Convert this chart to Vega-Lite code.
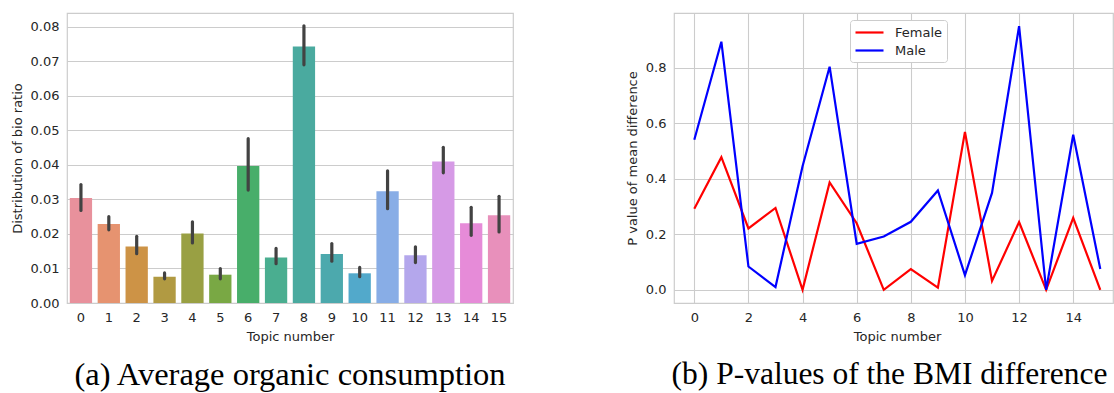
{
  "$schema": "https://vega.github.io/schema/vega-lite/v6.json",
  "background": "white",
  "padding": {"left": 10, "top": 12, "right": 0, "bottom": 0},
  "config": {
    "font": "DejaVu Sans",
    "view": {"stroke": "#cccccc", "strokeWidth": 1.2},
    "axis": {
      "labelFontSize": 13,
      "titleFontSize": 13,
      "labelColor": "#262626",
      "titleColor": "#262626",
      "titleFontWeight": "normal",
      "ticks": false,
      "tickSize": 0,
      "domain": false,
      "gridColor": "#cccccc",
      "gridWidth": 1.1,
      "labelPadding": 8,
      "titlePadding": 6
    }
  },
  "resolve": {"scale": {"color": "independent"}, "legend": {"color": "independent"}},
  "datasets": {
    "bars": [
      {"topic": 0, "mean": 0.0304, "lo": 0.0268, "hi": 0.0343},
      {"topic": 1, "mean": 0.0229, "lo": 0.0212, "hi": 0.0250},
      {"topic": 2, "mean": 0.0164, "lo": 0.0143, "hi": 0.0193},
      {"topic": 3, "mean": 0.0076, "lo": 0.0070, "hi": 0.0087},
      {"topic": 4, "mean": 0.0201, "lo": 0.0174, "hi": 0.0235},
      {"topic": 5, "mean": 0.0082, "lo": 0.0070, "hi": 0.0100},
      {"topic": 6, "mean": 0.0397, "lo": 0.0327, "hi": 0.0476},
      {"topic": 7, "mean": 0.0132, "lo": 0.0114, "hi": 0.0158},
      {"topic": 8, "mean": 0.0743, "lo": 0.0690, "hi": 0.0803},
      {"topic": 9, "mean": 0.0142, "lo": 0.0121, "hi": 0.0172},
      {"topic": 10, "mean": 0.0086, "lo": 0.0076, "hi": 0.0103},
      {"topic": 11, "mean": 0.0324, "lo": 0.0273, "hi": 0.0383},
      {"topic": 12, "mean": 0.0138, "lo": 0.0117, "hi": 0.0163},
      {"topic": 13, "mean": 0.0410, "lo": 0.0377, "hi": 0.0451},
      {"topic": 14, "mean": 0.0231, "lo": 0.0196, "hi": 0.0277},
      {"topic": 15, "mean": 0.0254, "lo": 0.0206, "hi": 0.0309}
    ],
    "pvals": [
      {"topic": 0, "sex": "Female", "p": 0.292},
      {"topic": 1, "sex": "Female", "p": 0.478},
      {"topic": 2, "sex": "Female", "p": 0.221},
      {"topic": 3, "sex": "Female", "p": 0.295},
      {"topic": 4, "sex": "Female", "p": 0.0},
      {"topic": 5, "sex": "Female", "p": 0.387},
      {"topic": 6, "sex": "Female", "p": 0.24},
      {"topic": 7, "sex": "Female", "p": 0.0},
      {"topic": 8, "sex": "Female", "p": 0.075},
      {"topic": 9, "sex": "Female", "p": 0.008},
      {"topic": 10, "sex": "Female", "p": 0.569},
      {"topic": 11, "sex": "Female", "p": 0.032},
      {"topic": 12, "sex": "Female", "p": 0.244},
      {"topic": 13, "sex": "Female", "p": 0.0},
      {"topic": 14, "sex": "Female", "p": 0.259},
      {"topic": 15, "sex": "Female", "p": 0.0},
      {"topic": 0, "sex": "Male", "p": 0.541},
      {"topic": 1, "sex": "Male", "p": 0.894},
      {"topic": 2, "sex": "Male", "p": 0.084},
      {"topic": 3, "sex": "Male", "p": 0.010},
      {"topic": 4, "sex": "Male", "p": 0.445},
      {"topic": 5, "sex": "Male", "p": 0.804},
      {"topic": 6, "sex": "Male", "p": 0.166},
      {"topic": 7, "sex": "Male", "p": 0.192},
      {"topic": 8, "sex": "Male", "p": 0.245},
      {"topic": 9, "sex": "Male", "p": 0.358},
      {"topic": 10, "sex": "Male", "p": 0.053},
      {"topic": 11, "sex": "Male", "p": 0.349},
      {"topic": 12, "sex": "Male", "p": 0.950},
      {"topic": 13, "sex": "Male", "p": 0.0},
      {"topic": 14, "sex": "Male", "p": 0.559},
      {"topic": 15, "sex": "Male", "p": 0.075}
    ]
  },
  "spacing": 161,
  "bounds": "flush",
  "hconcat": [
    {
      "width": 446,
      "height": 290,
      "data": {"name": "bars"},
      "title": {
        "text": "(a) Average organic consumption",
        "orient": "bottom",
        "anchor": "middle",
        "font": "Liberation Serif",
        "fontSize": 32.5,
        "fontWeight": "normal",
        "color": "black",
        "offset": 16
      },
      "layer": [
        {
          "mark": {"type": "bar"},
          "encoding": {
            "x": {
              "field": "topic",
              "type": "ordinal",
              "title": "Topic number",
              "scale": {"paddingInner": 0.2, "paddingOuter": 0.1},
              "axis": {"labelAngle": 0, "grid": false}
            },
            "y": {
              "field": "mean",
              "type": "quantitative",
              "title": "Distribution of bio ratio",
              "scale": {"domain": [0, 0.084], "nice": false, "zero": false},
              "axis": {"values": [0, 0.01, 0.02, 0.03, 0.04, 0.05, 0.06, 0.07, 0.08], "format": ".2f", "grid": true, "labelOverlap": false}
            },
            "color": {
              "field": "topic",
              "type": "ordinal",
              "legend": null,
              "scale": {"range": ["#e8919c", "#e69370", "#cd9346", "#b19a42", "#99a043", "#79a844", "#48ae6a", "#4aae90", "#4aaa9f", "#4ca9ad", "#52a9cb", "#88ade6", "#b4a7ec", "#d69ae6", "#e68bd8", "#e890bb"]}
            }
          }
        },
        {
          "mark": {"type": "rule", "strokeWidth": 3.2, "color": "#424242", "strokeCap": "round"},
          "encoding": {
            "x": {"field": "topic", "type": "ordinal", "title": "Topic number", "axis": {"labelAngle": 0, "grid": false}},
            "y": {
              "field": "lo",
              "type": "quantitative",
              "title": "Distribution of bio ratio",
              "axis": {"values": [0, 0.01, 0.02, 0.03, 0.04, 0.05, 0.06, 0.07, 0.08], "format": ".2f", "grid": true, "labelOverlap": false}
            },
            "y2": {"field": "hi"}
          }
        }
      ]
    },
    {
      "width": 439,
      "height": 290,
      "data": {"name": "pvals"},
      "title": {
        "text": "(b) P-values of the BMI difference",
        "orient": "bottom",
        "anchor": "middle",
        "font": "Liberation Serif",
        "fontSize": 31.5,
        "fontWeight": "normal",
        "color": "black",
        "offset": 16,
        "dx": -4
      },
      "mark": {"type": "line", "strokeWidth": 2.2},
      "encoding": {
        "x": {
          "field": "topic",
          "type": "quantitative",
          "title": "Topic number",
          "scale": {"domain": [-0.75, 15.47], "nice": false, "zero": false},
          "axis": {"values": [0, 2, 4, 6, 8, 10, 12, 14], "grid": true, "titleX": 223}
        },
        "y": {
          "field": "p",
          "type": "quantitative",
          "title": "P value of mean difference",
          "scale": {"domain": [-0.0475, 0.9975], "nice": false, "zero": false},
          "axis": {"values": [0, 0.2, 0.4, 0.6, 0.8], "format": ".1f", "grid": true}
        },
        "color": {
          "field": "sex",
          "type": "nominal",
          "scale": {"domain": ["Female", "Male"], "range": ["#ff0000", "#0000ff"]},
          "legend": {
            "orient": "none",
            "legendX": 176,
            "legendY": 7,
            "title": null,
            "symbolType": "M-1,0H3",
            "symbolSize": 196,
            "symbolStrokeWidth": 2.2,
            "labelFontSize": 13,
            "labelColor": "#262626",
            "labelOffset": 24,
            "fillColor": "white",
            "strokeColor": "#cccccc",
            "cornerRadius": 3,
            "padding": 4,
            "rowPadding": 2
          }
        }
      }
    }
  ]
}
